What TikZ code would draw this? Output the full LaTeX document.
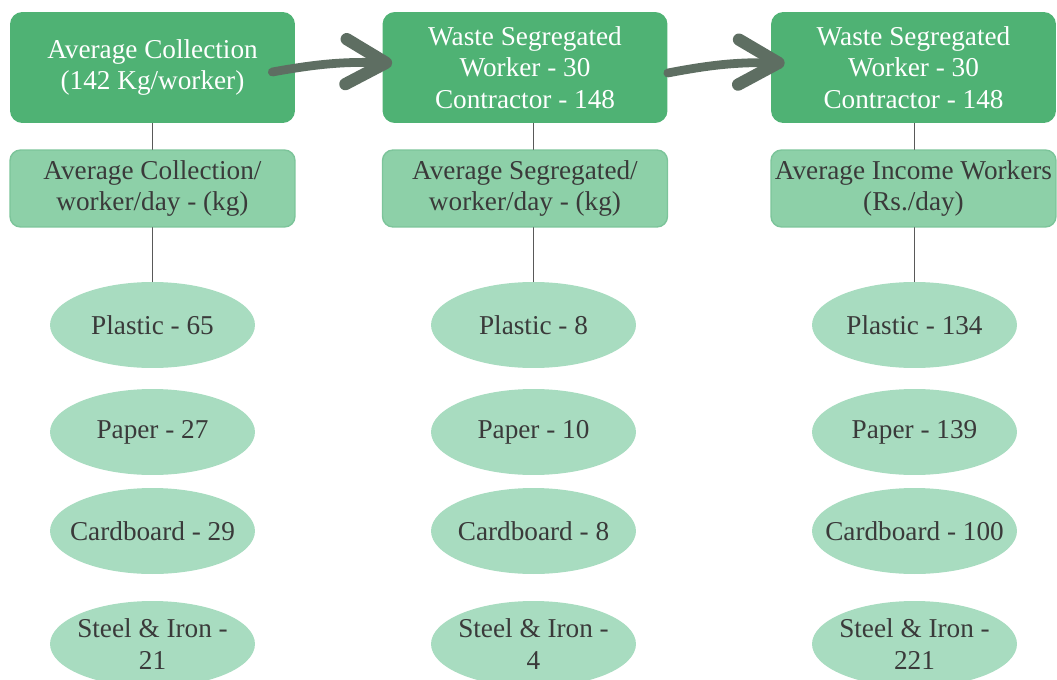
\documentclass[tikz,border=0pt]{standalone}
\usepackage{fontspec}
\setmainfont{Liberation Serif}
\usetikzlibrary{arrows.meta,calc,shapes.geometric}
\definecolor{headgreen}{HTML}{4FB274}
\definecolor{subgreen}{HTML}{8DD0A8}
\definecolor{subedge}{HTML}{7CC49A}
\definecolor{leafgreen}{HTML}{A8DCC0}
\definecolor{arrowgrey}{HTML}{5E6E62}
\definecolor{textgrey}{HTML}{3A3A3A}
\tikzset{
	headbox/.style={rectangle, rounded corners=7pt, fill=headgreen, text=white, align=center, minimum width=5.7cm, minimum height=2.22cm, inner sep=0pt},
	subbox/.style={rectangle, rounded corners=6pt, fill=subgreen, draw=subedge, line width=0.8pt, text=textgrey, align=center, minimum width=5.7cm, minimum height=1.54cm, inner sep=0pt},
	leaf/.style={ellipse, fill=leafgreen, text=textgrey, align=center, minimum width=4.1cm, minimum height=1.72cm, inner xsep=-1cm, inner ysep=-0.2cm},
	link/.style={draw=black!65, line width=0.6pt},
	flow/.style={draw=arrowgrey, line width=5pt, -{Straight Barb[length=8mm,width=9mm,line width=7pt,round]}}
}
\begin{document}
\begin{tikzpicture}[x=0.02cm, y=-0.02cm, font=\fontsize{15.5}{17.8}\selectfont, line join=round, line cap=round]
	\useasboundingbox (0,0) rectangle (1057,679);
	% hàng trên
	\node[headbox] (h1) at (152.5,67.5) {Average Collection\\(142 Kg/worker)};
	\node[headbox] (h2) at (525,67.5) {Waste Segregated\\Worker - 30\\Contractor - 148};
	\node[headbox] (h3) at (913.5,67.5) {Waste Segregated\\Worker - 30\\Contractor - 148};
	% hàng giữa
	\node[subbox] (s1) at (152.5,188.5) {Average Collection/\\worker/day - (kg)};
	\node[subbox] (s2) at (525,188.5) {Average Segregated/\\worker/day - (kg)};
	\node[subbox] (s3) at (913.5,188.5) {Average Income Workers\\(Rs./day)};
	% các ellipse
	\node[leaf] (p1) at (152.5,325) {Plastic - 65};
	\node[leaf] (q1) at (152.5,432) {Paper - 27};
	\node[leaf] (c1) at (152.5,531) {Cardboard - 29};
	\node[leaf] (t1) at (152.5,644) {Steel \& Iron -\\21};
	\node[leaf] (p2) at (533.5,325) {Plastic - 8};
	\node[leaf] (q2) at (533.5,432) {Paper - 10};
	\node[leaf] (c2) at (533.5,531) {Cardboard - 8};
	\node[leaf] (t2) at (533.5,644) {Steel \& Iron -\\4};
	\node[leaf] (p3) at (914.5,325) {Plastic - 134};
	\node[leaf] (q3) at (914.5,432) {Paper - 139};
	\node[leaf] (c3) at (914.5,531) {Cardboard - 100};
	\node[leaf] (t3) at (914.5,644) {Steel \& Iron -\\221};
	% nối dọc
	\foreach \i in {1,2,3} {
		\draw[link] (p\i.north |- h\i.south) -- (p\i.north |- s\i.north);
		\draw[link] (p\i.north |- s\i.south) -- (p\i.north);
	}
	% mũi tên
	\draw[flow] ($(h1.east)+(-23,4.5)$) to[bend left=6] ($(h2.west)+(10,-4.5)$);
	\draw[flow] ($(h2.east)+(0,5.5)$) to[bend left=6] ($(h3.west)+(14,-4.5)$);
\end{tikzpicture}
\end{document}
